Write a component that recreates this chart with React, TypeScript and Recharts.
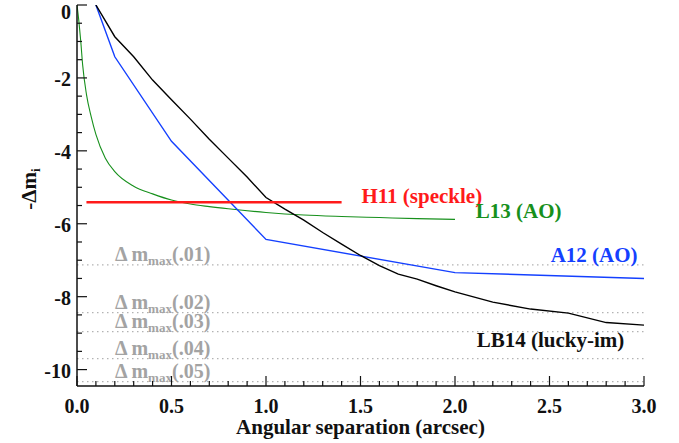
import { LineChart, Line, XAxis, YAxis, ReferenceLine, ReferenceDot } from 'recharts';

const FONT = "'Liberation Serif', 'DejaVu Serif', serif";
const AXIS_DARK = '#111111';
const AXIS_GREY = '#555555';
const RED = '#ff1a1a';
const GREEN = '#17901c';
const BLUE = '#1440ff';
const GREY_TEXT = '#a3a3a3';
const MAJOR = 10;
const MINOR = 5;

// contrast limit -Δm_i against angular separation (arcsec)
const LB14_SEP = [0.1, 0.2, 0.3, 0.4, 0.5, 0.6, 0.7, 0.8, 0.9, 1.0, 1.1, 1.2, 1.3, 1.4, 1.5, 1.6, 1.7, 1.8, 1.9, 2.0, 2.2, 2.4, 2.6, 2.8, 3.0];
const LB14_DM = [0, -0.87, -1.42, -2.06, -2.6, -3.13, -3.68, -4.2, -4.72, -5.28, -5.6, -5.9, -6.24, -6.56, -6.87, -7.15, -7.38, -7.52, -7.7, -7.87, -8.15, -8.34, -8.45, -8.71, -8.78];

const A12_SEP = [0.1, 0.2, 0.5, 1.0, 2.0, 3.0];
const A12_DM = [0, -1.42, -3.74, -6.43, -7.34, -7.5];

const L13_SEP = [0, 0.01, 0.02, 0.03, 0.05, 0.075, 0.1, 0.15, 0.2, 0.3, 0.4, 0.5, 0.6, 0.7, 0.8, 1.0, 1.2, 1.4, 1.6, 1.8, 2.0];
const L13_DM = [0, -0.45, -1.0, -1.65, -2.45, -3.06, -3.55, -4.2, -4.57, -4.97, -5.18, -5.35, -5.46, -5.53, -5.59, -5.69, -5.76, -5.8, -5.83, -5.86, -5.88];

const H11_SEP = [0.05, 1.4];
const H11_DM = [-5.41, -5.41];

// Δm_max for the 1%..5% false-alarm levels
const DM_MAX_LEVELS = ['.01', '.02', '.03', '.04', '.05'];
const DM_MAX = [-7.13, -8.44, -8.96, -9.7, -10.33];

const X_TICKS = [0, 0.5, 1, 1.5, 2, 2.5, 3];
const X_TICK_LABELS = ['0.0', '0.5', '1.0', '1.5', '2.0', '2.5', '3.0'];
const Y_TICKS = [0, -2, -4, -6, -8, -10];
const Y_TICK_LABELS = ['0', '-2', '-4', '-6', '-8', '-10'];

const X_ALL_TICKS = Array.from({ length: 31 }, (_, i) => i / 10);
const Y_ALL_TICKS = Array.from({ length: 21 }, (_, i) => -i / 2);

const zip = (xs: number[], ys: number[]) => xs.map((x, i) => ({ x, y: ys[i] }));

const lb14 = zip(LB14_SEP, LB14_DM);
const a12 = zip(A12_SEP, A12_DM);
const l13 = zip(L13_SEP, L13_DM);
const h11 = zip(H11_SEP, H11_DM);

const SERIES_LABELS = [
  { text: 'H11 (speckle)', x: 1.505, y: -5.43, anchor: 'start', color: RED },
  { text: 'L13 (AO)', x: 2.11, y: -5.85, anchor: 'start', color: GREEN },
  { text: 'A12 (AO)', x: 2.966, y: -7.04, anchor: 'end', color: BLUE },
  { text: 'LB14 (lucky-im)', x: 2.896, y: -9.37, anchor: 'end', color: '#111111' },
];

const labelFor = (v: number, ticks: number[], labels: string[]) => {
  const i = ticks.findIndex((t) => Math.abs(t - v) < 1e-6);
  return i >= 0 ? labels[i] : null;
};

const textStyle = (size: number, color: string) => ({
  fontFamily: FONT,
  fontWeight: 700,
  fontSize: size,
  fill: color,
});

function BottomTick(props: any) {
  const { x, y, payload } = props;
  const label = labelFor(payload.value, X_TICKS, X_TICK_LABELS);
  return (
    <g>
      <line x1={x} x2={x} y1={y} y2={y - (label ? MAJOR : MINOR)} stroke={AXIS_DARK} strokeWidth={1.2} />
      {label && (
        <text x={x} y={y + 27} textAnchor="middle" style={textStyle(20, '#111')}>
          {label}
        </text>
      )}
    </g>
  );
}

function TopTick(props: any) {
  const { x, y, payload } = props;
  const major = labelFor(payload.value, X_TICKS, X_TICK_LABELS) !== null;
  return <line x1={x} x2={x} y1={y} y2={y + (major ? MAJOR : MINOR)} stroke={AXIS_GREY} strokeWidth={1.2} />;
}

function LeftTick(props: any) {
  const { x, y, payload } = props;
  const label = labelFor(payload.value, Y_TICKS, Y_TICK_LABELS);
  return (
    <g>
      <line x1={x} x2={x + (label ? MAJOR : MINOR)} y1={y} y2={y} stroke={AXIS_DARK} strokeWidth={1.2} />
      {label && (
        <text x={x - 6} y={Math.max(y + 8, 19)} textAnchor="end" style={textStyle(20, '#111')}>
          {label}
        </text>
      )}
    </g>
  );
}

function RightTick(props: any) {
  const { x, y, payload } = props;
  const major = labelFor(payload.value, Y_TICKS, Y_TICK_LABELS) !== null;
  return <line x1={x} x2={x - (major ? MAJOR : MINOR)} y1={y} y2={y} stroke={AXIS_GREY} strokeWidth={1.2} />;
}

const renderXTitle = (props: any) => {
  const { x, y, width } = props.viewBox;
  return (
    <text x={x + width / 2} y={y + 48} textAnchor="middle" style={textStyle(21, '#111')}>
      Angular separation (arcsec)
    </text>
  );
};

const renderYTitle = () => (
  <text x={36} y={189} transform="rotate(-90 36 189)" textAnchor="middle" style={textStyle(21, '#111')}>
    -Δm
    <tspan style={{ fontSize: 13 }} dy={4}>
      i
    </tspan>
  </text>
);

const dmMaxLabel = (level: string) => (props: any) => {
  const { x, y } = props.viewBox;
  return (
    <text x={x + 38} y={y - 4} style={textStyle(20, GREY_TEXT)}>
      Δ m
      <tspan style={{ fontSize: 13 }} dy={4}>
        max
      </tspan>
      <tspan dy={-4}>({level})</tspan>
    </text>
  );
};

export default function App() {
  return (
    <div style={{ position: 'absolute', left: 0, top: 0, background: '#fff' }}>
      <LineChart width={679} height={443} margin={{ top: 5, right: 35, bottom: 0, left: 0 }}>
        <XAxis
          dataKey="x"
          type="number"
          domain={[0, 3]}
          allowDataOverflow
          ticks={X_ALL_TICKS}
          interval={0}
          tick={BottomTick}
          tickLine={false}
          tickSize={0}
          tickMargin={0}
          height={57}
          axisLine={{ stroke: AXIS_DARK, strokeWidth: 1.5 }}
          label={renderXTitle}
        />
        <XAxis
          xAxisId="top"
          orientation="top"
          type="number"
          domain={[0, 3]}
          allowDataOverflow
          ticks={X_ALL_TICKS}
          interval={0}
          tick={TopTick}
          tickLine={false}
          tickSize={0}
          tickMargin={0}
          height={0}
          axisLine={{ stroke: AXIS_GREY, strokeWidth: 1.5 }}
        />
        <YAxis
          type="number"
          domain={[-10.45, 0]}
          allowDataOverflow
          ticks={Y_ALL_TICKS}
          interval={0}
          tick={LeftTick}
          tickLine={false}
          tickSize={0}
          tickMargin={0}
          width={77}
          axisLine={{ stroke: AXIS_DARK, strokeWidth: 1.5 }}
          label={renderYTitle}
        />
        <YAxis
          yAxisId="right"
          orientation="right"
          type="number"
          domain={[-10.45, 0]}
          allowDataOverflow
          ticks={Y_ALL_TICKS}
          interval={0}
          tick={RightTick}
          tickLine={false}
          tickSize={0}
          tickMargin={0}
          width={0}
          axisLine={{ stroke: AXIS_GREY, strokeWidth: 1.5 }}
        />

        {DM_MAX.map((v, i) => (
          <ReferenceLine
            key={DM_MAX_LEVELS[i]}
            y={v}
            stroke="#b3b3b3"
            strokeWidth={1.2}
            strokeDasharray="1.5 3.5"
            label={dmMaxLabel(DM_MAX_LEVELS[i])}
          />
        ))}

        <Line data={l13} dataKey="y" type="monotone" stroke={GREEN} strokeWidth={1.1} dot={false} isAnimationActive={false} />
        <Line data={a12} dataKey="y" type="linear" stroke={BLUE} strokeWidth={1.4} dot={false} isAnimationActive={false} />
        <Line data={lb14} dataKey="y" type="linear" stroke="#000" strokeWidth={1.4} dot={false} isAnimationActive={false} />
        <Line data={h11} dataKey="y" type="linear" stroke={RED} strokeWidth={2.4} dot={false} isAnimationActive={false} />

        {SERIES_LABELS.map((s) => (
          <ReferenceDot
            key={s.text}
            x={s.x}
            y={s.y}
            r={0}
            shape={(p: any) => (
              <text x={p.cx} y={p.cy} textAnchor={s.anchor as any} style={textStyle(21, s.color)}>
                {s.text}
              </text>
            )}
          />
        ))}
      </LineChart>
    </div>
  );
}
